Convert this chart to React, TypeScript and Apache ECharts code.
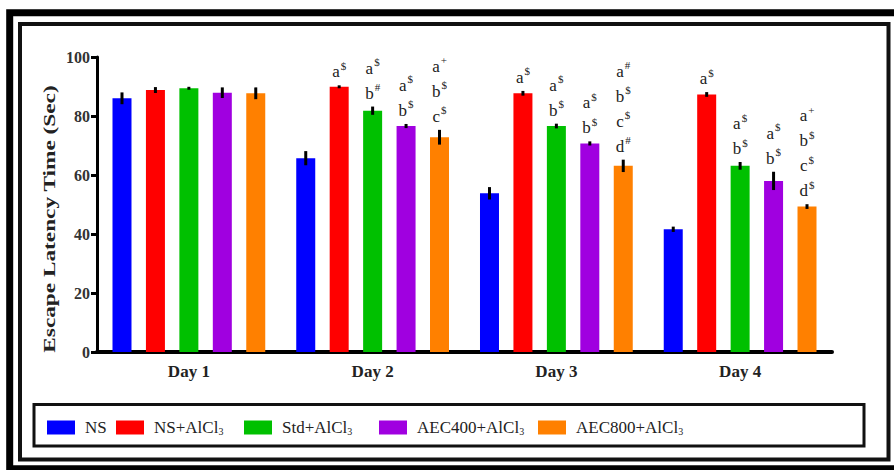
import React, { useEffect, useRef } from "react";
import * as echarts from "echarts";

const days = ["Day 1", "Day 2", "Day 3", "Day 4"];
const groups = ["NS", "NS+AlCl3", "Std+AlCl3", "AEC400+AlCl3", "AEC800+AlCl3"];
const groupColors = ["#0000FF", "#FF0000", "#00C000", "#A000E0", "#FF8000"];

const meanNS = [86.0, 65.7, 53.8, 41.6];
const meanNSAl = [88.8, 89.9, 87.7, 87.3];
const meanStd = [89.4, 81.8, 76.6, 63.1];
const meanAEC400 = [87.9, 76.6, 70.7, 58.0];
const meanAEC800 = [87.7, 72.8, 63.1, 49.3];

const semNS = [2.0, 2.4, 2.1, 0.9];
const semNSAl = [1.0, 0.5, 0.8, 0.8];
const semStd = [0.5, 1.4, 0.8, 1.3];
const semAEC400 = [1.8, 0.7, 0.7, 3.1];
const semAEC800 = [2.0, 2.5, 2.1, 0.8];

const sigNS: string[][] = [[], [], [], []];
const sigNSAl = [[], ["a$"], ["a$"], ["a$"]];
const sigStd = [[], ["a$", "b#"], ["a$", "b$"], ["a$", "b$"]];
const sigAEC400 = [[], ["a$", "b$"], ["a$", "b$"], ["a$", "b$"]];
const sigAEC800 = [[], ["a+", "b$", "c$"], ["a#", "b$", "c$", "d#"], ["a+", "b$", "c$", "d$"]];

const yTicks = [0, 20, 40, 60, 80, 100];

const means = [meanNS, meanNSAl, meanStd, meanAEC400, meanAEC800];
const sems = [semNS, semNSAl, semStd, semAEC400, semAEC800];
const sigs = [sigNS, sigNSAl, sigStd, sigAEC400, sigAEC800];

// layout constants
const BAR_W = 19;
const BAR_GAP = 0.76;
const STEP = BAR_W * (1 + BAR_GAP);
const legendLeft = [47, 116, 244, 379, 538];
const SERIF = "Liberation Serif";

export default function App() {
  const ref = useRef<HTMLDivElement>(null);
  useEffect(() => {
    const chart = echarts.init(ref.current!, null, { renderer: "svg" });
    const pxPerUnit = 295 / 100;

    const barSeries = groups.map((name, gi) => ({
      name,
      type: "bar",
      barWidth: BAR_W,
      barGap: BAR_GAP * 100 + "%",
      itemStyle: { color: groupColors[gi] },
      data: means[gi].map((v, di) => {
        const lines = sigs[gi][di];
        return {
          value: v,
          label: {
            show: lines.length > 0,
            position: "top",
            distance: 5 + sems[gi][di] * pxPerUnit,
            fontFamily: SERIF,
            formatter: lines.map((s) => `{l|${s[0]}}{s|${s.slice(1)}}`).join("\n"),
            rich: {
              l: { fontFamily: SERIF, fontSize: 17, color: "#222", lineHeight: 25, verticalAlign: "bottom" },
              s: { fontFamily: SERIF, fontSize: 11, color: "#222", lineHeight: 25, verticalAlign: "bottom", padding: [0, 0, 9, 1] },
            },
          },
        };
      }),
    }));

    const errData: number[][] = [];
    groups.forEach((_, gi) => {
      days.forEach((_, di) => {
        errData.push([di, gi, means[gi][di], sems[gi][di]]);
      });
    });

    const legends = groups.map((name, gi) => ({
      data: [name],
      left: legendLeft[gi],
      top: 419,
      padding: 0,
      icon: "rect",
      itemWidth: 28,
      itemHeight: 14,
      selectedMode: false,
      formatter: (n: string) => n.replace("Cl3", "Cl{sub|3}"),
      textStyle: {
        fontFamily: SERIF,
        fontSize: 17,
        color: "#222",
        padding: [0, 0, 0, 5],
        rich: {
          sub: { fontFamily: SERIF, fontSize: 10, color: "#222", verticalAlign: "bottom", padding: [8, 0, 0, 0] },
        },
      },
    }));

    chart.setOption({
      animation: false,
      backgroundColor: "#fff",
      textStyle: { fontFamily: SERIF },
      grid: { left: 97, right: 62, top: 57, bottom: 118, containLabel: false },
      legend: legends,
      xAxis: {
        type: "category",
        data: days,
        axisLine: { lineStyle: { color: "#000", width: 4 } },
        axisTick: { alignWithLabel: true, length: 4, lineStyle: { color: "#000", width: 3 } },
        axisLabel: { color: "#222", fontFamily: SERIF, fontWeight: "bold", fontSize: 17, margin: 11 },
      },
      yAxis: {
        type: "value",
        min: yTicks[0],
        max: yTicks[yTicks.length - 1],
        interval: yTicks[1] - yTicks[0],
        axisLine: { show: true, lineStyle: { color: "#000", width: 3 } },
        axisTick: { show: true, length: 6, lineStyle: { color: "#000", width: 3 } },
        axisLabel: { color: "#333", fontFamily: SERIF, fontWeight: "bold", fontSize: 16, margin: 7 },
        splitLine: { show: false },
      },
      series: [
        ...barSeries,
        {
          type: "custom",
          name: "err",
          z: 5,
          coordinateSystem: "cartesian2d",
          encode: { x: 0, y: 2 },
          data: errData,
          renderItem: (params: any, api: any) => {
            const d = api.value(0);
            const g = api.value(1);
            const m = api.value(2);
            const e = api.value(3);
            const top = api.coord([d, m + e]);
            const bot = api.coord([d, m - e]);
            const x = top[0] + (g - 2) * STEP;
            return {
              type: "rect",
              shape: { x: x - 1.5, y: top[1], width: 3, height: Math.max(bot[1] - top[1], 2) },
              style: { fill: "#000" },
            };
          },
        },
      ],
      graphic: [
        { type: "rect", z: 100, shape: { x: 9.7, y: 12.7, width: 900, height: 456 }, style: { fill: "none", stroke: "#000", lineWidth: 7 } },
        { type: "rect", z: 100, shape: { x: 20, y: 24, width: 868.5, height: 435.5 }, style: { fill: "none", stroke: "#111", lineWidth: 4 } },
        { type: "rect", z: 100, shape: { x: 34, y: 404.5, width: 830, height: 41.5 }, style: { fill: "none", stroke: "#111", lineWidth: 3 } },
        {
          type: "text",
          x: 49,
          y: 219,
          rotation: Math.PI / 2,
          scaleX: 1.37,
          style: {
            text: "Escape Latency Time (Sec)",
            font: `bold 17px ${SERIF}`,
            fill: "#222",
            textAlign: "center",
            textVerticalAlign: "middle",
          },
        },
      ],
    });
    return () => chart.dispose();
  }, []);
  return <div ref={ref} style={{ position: "fixed", left: 0, top: 0, width: 894, height: 470 }} />;
}
